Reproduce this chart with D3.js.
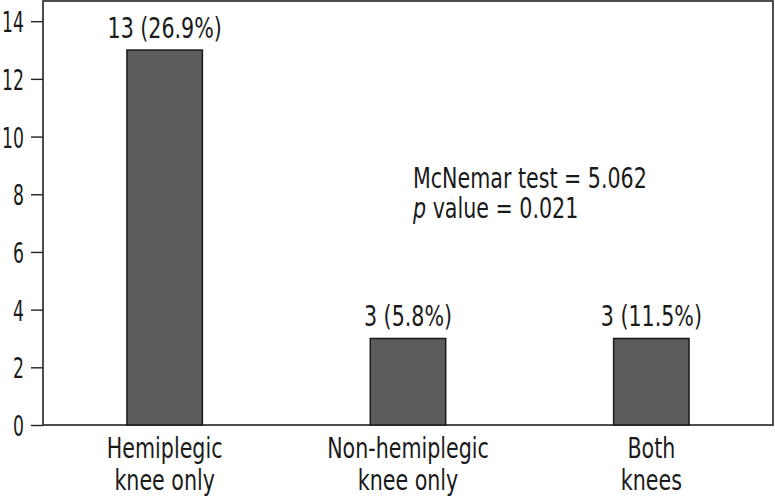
<html>
<head>
<script src="https://cdn.jsdelivr.net/npm/d3@7/dist/d3.min.js"></script>
<style>
body { margin: 0; background: #fff; }
text { font-family: "DejaVu Sans Condensed", "Liberation Sans Narrow", sans-serif; fill: #1a1a1a; font-size: 29px; }
</style>
</head>
<body>
<svg id="chart" width="775" height="498"></svg>
<script>
var categories = [ ["Hemiplegic", "knee only"], ["Non-hemiplegic", "knee only"], ["Both", "knees"] ];
var counts = [ 13, 3, 3 ];
var labels = [ "13 (26.9%)", "3 (5.8%)", "3 (11.5%)" ];
var yTicks = [ 0, 2, 4, 6, 8, 10, 12, 14 ];

var margin = { top: 1, right: 2, bottom: 73, left: 43 };
var W = 775, H = 498;
var w = W - margin.left - margin.right, h = H - margin.top - margin.bottom;

var svg = d3.select("#chart");
var g = svg.append("g").attr("transform", "translate(" + margin.left + "," + margin.top + ")");

// narrow text: the original uses a condensed face
function label(parent, x, y, anchor, str, sq) {
  return parent.append("g").attr("transform", "translate(" + x + "," + y + ") scale(" + (sq || 0.79) + ",1)")
    .append("text").attr("text-anchor", anchor).text(str);
}

var x = d3.scaleBand().domain(d3.range(counts.length)).range([0, w]).paddingInner(0.69).paddingOuter(0.345);
var y = d3.scaleLinear().domain([0, 14.7]).range([h, 0]);

// frame
g.append("rect").attr("width", w).attr("height", h)
  .attr("fill", "none").attr("stroke", "#222").attr("stroke-width", 1.6);

var yAxis = g.append("g").call(d3.axisLeft(y).tickValues(yTicks).tickSize(12).tickFormat(""));
yAxis.select(".domain").remove();
yAxis.selectAll("line").attr("stroke", "#222").attr("stroke-width", 1.4);
yTicks.forEach(function(t) { label(g, -19, y(t) + 11, "end", t, 0.66); });

g.selectAll(".bar").data(counts).enter().append("rect")
  .attr("x", function(d, i) { return x(i); })
  .attr("y", function(d) { return y(d); })
  .attr("width", x.bandwidth())
  .attr("height", function(d) { return h - y(d); })
  .attr("fill", "#5b5c5e").attr("stroke", "#1a1a1a").attr("stroke-width", 1.5);

counts.forEach(function(d, i) {
  var cx = x(i) + x.bandwidth() / 2;
  label(g, cx, y(d) - 12, "middle", labels[i]);
  label(g, cx, h + 33, "middle", categories[i][0]);
  label(g, cx, h + 65, "middle", categories[i][1]);
});

label(g, 370, 187, "start", "McNemar test = 5.062");
var l2 = label(g, 370, 217, "start", "");
l2.append("tspan").style("font-style", "italic").text("p");
l2.append("tspan").text(" value = 0.021");
</script>
</body>
</html>
